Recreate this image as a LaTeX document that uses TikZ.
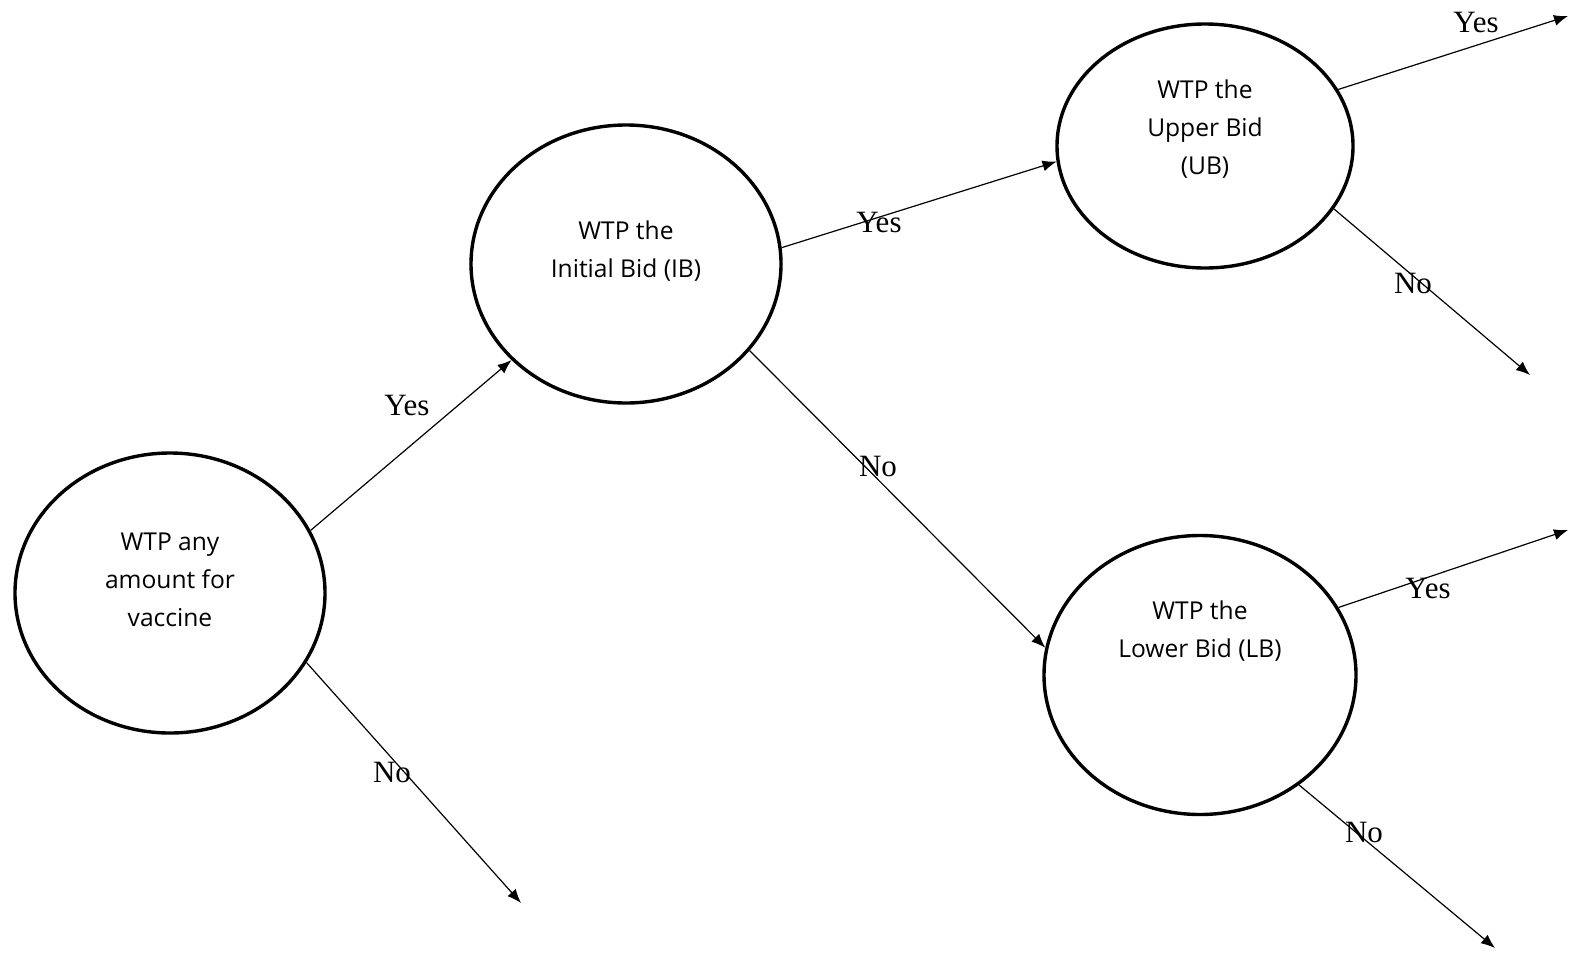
\documentclass[tikz,border=0pt]{standalone}
\usepackage{fontspec}
\setmainfont{Liberation Serif}
\newfontfamily\nodefont{Open Sans}
\usetikzlibrary{shapes.geometric,arrows.meta}
\begin{document}
\begin{tikzpicture}[x=0.5pt,y=-0.5pt,
  bubble/.style={draw,line width=1.7pt,ellipse,inner sep=0pt},
  txt/.style={font=\nodefont\fontsize{12.3}{19}\selectfont,align=center,inner sep=0pt},
  lab/.style={font=\fontsize{15.5}{17}\selectfont,inner sep=0pt},
  arr/.style={line width=0.6pt,-{Latex[length=7pt,width=5.5pt]}}]
\useasboundingbox (0,0) rectangle (1572,954);
\node[bubble,minimum width=155pt,minimum height=140pt] (L) at (170,593) {};
\node[bubble,minimum width=155pt,minimum height=139pt] (IB) at (626,264) {};
\node[bubble,minimum width=148pt,minimum height=122pt] (UB) at (1205,146) {};
\node[bubble,minimum width=156pt,minimum height=139.5pt] (LB) at (1200,675) {};
\node[txt] (tL) at (170,580) {WTP any\\amount for\\vaccine};
\node[txt] (tIB) at (626,251) {WTP the\\Initial Bid (IB)};
\node[txt] (tUB) at (1205,129) {WTP the\\Upper Bid\\(UB)};
\node[txt] (tLB) at (1200,631) {WTP the\\Lower Bid (LB)};
\coordinate (eLN) at (521,903);
\coordinate (eUY) at (1568,16);
\coordinate (eUN) at (1530,375);
\coordinate (eLY) at (1568,530);
\coordinate (eLBN) at (1495,948);
\draw[arr] (L.24) -- (IB.220);
\draw[arr] (L.333) -- (eLN);
\draw[arr] (IB.6.5) -- (UB.186.3);
\draw[arr] (IB.325.7) -- (LB.170);
\draw[arr] (UB.23.6) -- (eUY);
\draw[arr] (UB.334.7) -- (eUN);
\draw[arr] (LB.26.6) -- (eLY);
\draw[arr] (LB.312.1) -- (eLBN);
\node[lab] (y1) at (407,405) {Yes};
\node[lab] (n1) at (392,772) {No};
\node[lab] (y2) at (879,222) {Yes};
\node[lab] (n2) at (878,466) {No};
\node[lab] (y3) at (1476,22) {Yes};
\node[lab] (n3) at (1413,283) {No};
\node[lab] (y4) at (1428,588) {Yes};
\node[lab] (n4) at (1364,832) {No};
\end{tikzpicture}
\end{document}
